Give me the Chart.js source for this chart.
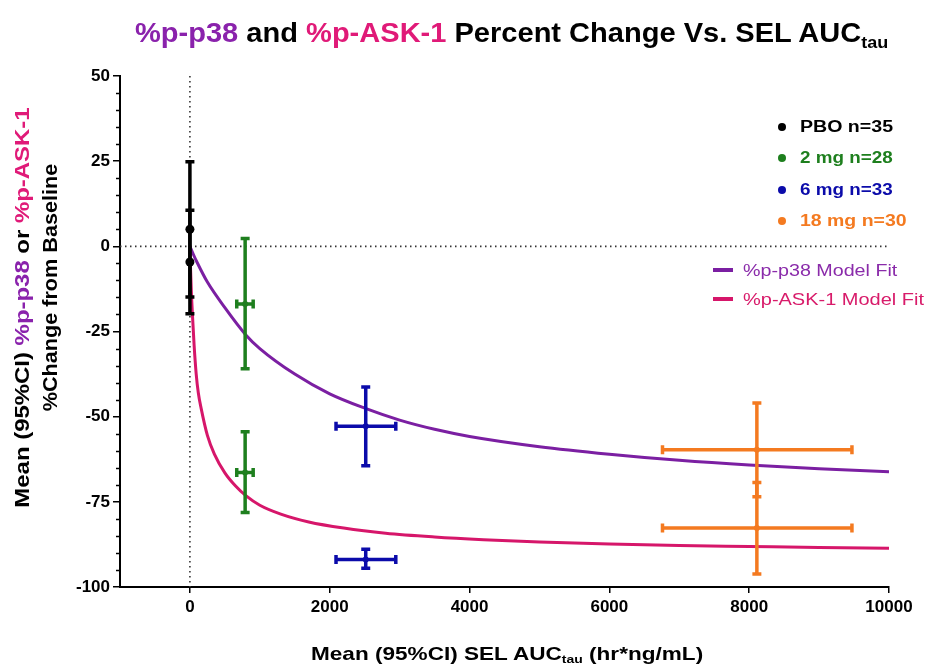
<!DOCTYPE html>
<html><head><meta charset="utf-8">
<title>%p-p38 and %p-ASK-1 Percent Change Vs. SEL AUCtau</title>
<script src="https://cdn.jsdelivr.net/npm/chart.js@4.4.1/dist/chart.umd.min.js"></script>
<style>
html,body{margin:0;padding:0;background:#fff;overflow:hidden;}
#wrap{position:relative;width:927px;height:667px;font-family:'Liberation Sans',Arial,Helvetica,sans-serif;font-weight:bold;color:#000;}
#c{position:absolute;left:0;top:0;width:927px;height:667px;}
.t{position:absolute;white-space:nowrap;line-height:1;display:inline-block;}
.sub{font-size:0.62em;position:relative;top:0.32em;}
.dot{position:absolute;border-radius:50%;}
.seg{position:absolute;}
</style></head>
<body><div id="wrap">
<canvas id="c" width="927" height="667"></canvas>
</div>
<script>
// ---------- data ----------
const groups     = ['PBO n=35', '2 mg n=28', '6 mg n=33', '18 mg n=30'];
const groupColors = ['#000000', '#1E7F1E', '#0B0BAA', '#F47A20'];
const aucMean  = [0, 790, 2515, 8110];
const aucLow   = [0, 670, 2090, 6760];
const aucHigh  = [0, 905, 2945, 9470];
const p38Mean  = [5.0, -16.9, -52.8, -59.7];
const p38Low   = [-14.9, -35.9, -64.4, -73.5];
const p38High  = [24.8, 2.3, -41.3, -46.0];
const ask1Mean = [-4.6, -66.4, -91.9, -82.7];
const ask1Low  = [-19.8, -78.1, -94.5, -96.2];
const ask1High = [10.6, -54.4, -88.9, -69.3];

const p38FitX = [0, 50, 100, 250, 500, 800, 1000, 1500, 2000, 2500, 3000, 3500, 4000, 5000, 6000, 7000, 8000, 9000, 10000];
const p38FitY = [0, -2.4, -4.6, -10.5, -18, -26, -30, -37.5, -43.3, -47.5, -51, -53.7, -55.8, -58.8, -61, -62.8, -64.2, -65.3, -66.2];
const ask1FitX = [0, 10, 20, 40, 60, 90, 120, 160, 250, 350, 500, 650, 800, 1000, 1300, 1700, 2200, 2800, 3500, 4200, 5000, 6000, 7000, 8000, 9000, 10000];
const ask1FitY = [0, -7, -13, -21.5, -29, -37.5, -43, -47.5, -55.5, -61, -66.5, -70.3, -73.2, -76.0, -78.6, -80.9, -82.7, -84.2, -85.3, -86.1, -86.8, -87.4, -87.8, -88.1, -88.4, -88.6];

const xTickValues = [0, 2000, 4000, 6000, 8000, 10000];
const yTickValues = [-100, -75, -50, -25, 0, 25, 50];
const fitLabels = ['%p-p38 Model Fit', '%p-ASK-1 Model Fit'];
const fitColors = ['#7B1FA2', '#D6166A'];
const fitTextColors = ['#8A2BAA', '#D81B6A'];

// ---------- chart ----------
const FONT = "'Liberation Sans', Arial, Helvetica, sans-serif";
const pointRadius = [4.5, 3, 3, 3];

const zeroLines = {
  id: 'zeroLines',
  beforeDatasetsDraw(chart) {
    const {ctx, chartArea: a, scales: {x, y}} = chart;
    const x0 = x.getPixelForValue(0), y0 = y.getPixelForValue(0);
    ctx.save();
    ctx.setLineDash([1.5, 3.5]);
    ctx.strokeStyle = '#333';
    ctx.lineWidth = 1.6;
    ctx.beginPath();
    ctx.moveTo(a.left, y0); ctx.lineTo(a.right, y0);
    ctx.moveTo(x0, a.top); ctx.lineTo(x0, a.bottom);
    ctx.stroke();
    ctx.restore();
  }
};

const errorBars = {
  id: 'errorBars',
  afterDatasetsDraw(chart) {
    const {ctx, scales: {x, y}} = chart;
    const cap = 4.5;
    ctx.save();
    ctx.lineWidth = 3.5;
    groups.forEach((g, i) => {
      ctx.strokeStyle = groupColors[i];
      const px = x.getPixelForValue(aucMean[i]);
      [[p38Mean, p38Low, p38High], [ask1Mean, ask1Low, ask1High]].forEach(([m, lo, hi]) => {
        const yl = y.getPixelForValue(lo[i]), yh = y.getPixelForValue(hi[i]), ym = y.getPixelForValue(m[i]);
        ctx.beginPath();
        ctx.moveTo(px, yl); ctx.lineTo(px, yh);
        ctx.moveTo(px - cap, yl); ctx.lineTo(px + cap, yl);
        ctx.moveTo(px - cap, yh); ctx.lineTo(px + cap, yh);
        ctx.stroke();
        if (aucHigh[i] > aucLow[i]) {
          const xl = x.getPixelForValue(aucLow[i]), xh = x.getPixelForValue(aucHigh[i]);
          ctx.beginPath();
          ctx.moveTo(xl, ym); ctx.lineTo(xh, ym);
          ctx.moveTo(xl, ym - cap); ctx.lineTo(xl, ym + cap);
          ctx.moveTo(xh, ym - cap); ctx.lineTo(xh, ym + cap);
          ctx.stroke();
        }
      });
    });
    ctx.restore();
  }
};

const minorTicks = {
  id: 'minorTicks',
  afterDraw(chart) {
    const {ctx, chartArea: a, scales: {y}} = chart;
    ctx.save();
    ctx.strokeStyle = '#000';
    ctx.lineWidth = 1.5;
    ctx.beginPath();
    for (let v = y.min; v <= y.max; v += 5) {
      if (yTickValues.includes(v)) continue;
      const py = Math.round(y.getPixelForValue(v)) + 0.5;
      ctx.moveTo(a.left - 4, py); ctx.lineTo(a.left, py);
    }
    ctx.stroke();
    ctx.restore();
  }
};

const datasets = [
  {
    type: 'line', label: fitLabels[0], order: 2,
    data: p38FitX.map((v, k) => ({x: v, y: p38FitY[k]})),
    borderColor: fitColors[0], borderWidth: 3, pointRadius: 0, fill: false,
    cubicInterpolationMode: 'monotone'
  },
  {
    type: 'line', label: fitLabels[1], order: 2,
    data: ask1FitX.map((v, k) => ({x: v, y: ask1FitY[k]})),
    borderColor: fitColors[1], borderWidth: 3, pointRadius: 0, fill: false,
    cubicInterpolationMode: 'monotone'
  }
];
groups.forEach((g, i) => {
  datasets.push({
    type: 'scatter', label: g, order: 0,
    data: [{x: aucMean[i], y: p38Mean[i]}, {x: aucMean[i], y: ask1Mean[i]}],
    backgroundColor: groupColors[i], borderColor: groupColors[i], borderWidth: 0,
    pointRadius: pointRadius[i]
  });
});

const tickFont = {family: FONT, size: 17, weight: 'bold'};
new Chart(document.getElementById('c'), {
  type: 'scatter',
  data: {datasets},
  options: {
    responsive: false, animation: false,
    layout: {padding: {left: 0, top: 76, right: 38, bottom: 0}},
    plugins: {legend: {display: false}, tooltip: {enabled: false}, title: {display: false}},
    scales: {
      x: {
        type: 'linear', min: -1000, max: 10000,
        afterBuildTicks: s => { s.ticks = xTickValues.map(v => ({value: v})); },
        afterFit: s => { s.height = 80; },
        grid: {drawOnChartArea: false, drawTicks: true, tickLength: 6, color: '#000', lineWidth: 1.5},
        border: {display: true, color: '#000', width: 2},
        ticks: {font: tickFont, color: '#000', padding: 4, maxRotation: 0, autoSkip: false,
                callback: v => String(v)}
      },
      y: {
        type: 'linear', min: -100, max: 50,
        afterBuildTicks: s => { s.ticks = yTickValues.map(v => ({value: v})); },
        afterFit: s => { s.width = 120; },
        grid: {drawOnChartArea: false, drawTicks: true, tickLength: 7, color: '#000', lineWidth: 1.5},
        border: {display: true, color: '#000', width: 2},
        ticks: {font: tickFont, color: '#000', padding: 3, autoSkip: false,
                callback: v => String(v)}
      }
    }
  },
  plugins: [zeroLines, errorBars, minorTicks]
});

// ---------- text (title, axis titles, legend) ----------
const wrap = document.getElementById('wrap');
const placed = [];
function addText(html, opts) {
  const el = document.createElement('div');
  el.className = 't';
  el.innerHTML = html;
  el.style.fontSize = opts.fs + 'px';
  if (opts.color) el.style.color = opts.color;
  wrap.appendChild(el);
  placed.push([el, opts]);
  return el;
}
function layoutTexts() {
  placed.forEach(([el, o]) => {
    el.style.transform = 'none';
    const ow = el.offsetWidth, oh = el.offsetHeight;
    const s = o.w / ow;
    if (o.rot) {
      el.style.left = (o.cx - ow / 2) + 'px';
      el.style.top = (o.cy - oh / 2) + 'px';
      el.style.transformOrigin = '50% 50%';
      el.style.transform = 'rotate(-90deg) scaleX(' + s + ')';
    } else {
      el.style.left = o.left + 'px';
      el.style.top = (o.cy - oh / 2) + 'px';
      el.style.transformOrigin = '0 50%';
      el.style.transform = 'scaleX(' + s + ')';
    }
  });
}
const P = '#8A22AC', K = '#E01A78';
addText('<span style="color:' + P + '">%p-p38</span> and <span style="color:' + K + '">%p-ASK-1</span> Percent Change Vs. SEL AUC<span class="sub">tau</span>',
  {fs: 28, left: 135, cy: 33, w: 753});
addText('Mean (95%CI) <span style="color:' + P + '">%p-p38</span> or <span style="color:' + K + '">%p-ASK-1</span>',
  {fs: 21, rot: true, cx: 21, cy: 307, w: 400});
addText('%Change from Baseline', {fs: 21, rot: true, cx: 49, cy: 287, w: 247});
addText('Mean (95%CI) SEL AUC<span class="sub">tau</span> (hr*ng/mL)', {fs: 19, left: 311, cy: 653, w: 392});

// legend
const legendY = [127, 158, 190, 221];
const legendW = [93, 93, 93, 107];
groups.forEach((g, i) => {
  const d = document.createElement('div');
  d.className = 'dot';
  d.style.cssText += 'left:' + (782 - 4) + 'px;top:' + (legendY[i] - 4) + 'px;width:8px;height:8px;background:' + groupColors[i];
  wrap.appendChild(d);
  addText(g, {fs: 16, left: 800, cy: legendY[i], w: legendW[i], color: groupColors[i]});
});
const fitY = [270, 299], fitW = [154, 181];
fitLabels.forEach((f, i) => {
  const s = document.createElement('div');
  s.className = 'seg';
  s.style.cssText += 'left:713px;top:' + (fitY[i] - 2) + 'px;width:20px;height:4px;background:' + fitColors[i];
  wrap.appendChild(s);
  const el = addText(f, {fs: 17, left: 743, cy: fitY[i], w: fitW[i], color: fitTextColors[i]});
  el.style.fontWeight = 'normal';
});
layoutTexts();
if (document.fonts && document.fonts.ready) document.fonts.ready.then(layoutTexts);
</script>
</body></html>
